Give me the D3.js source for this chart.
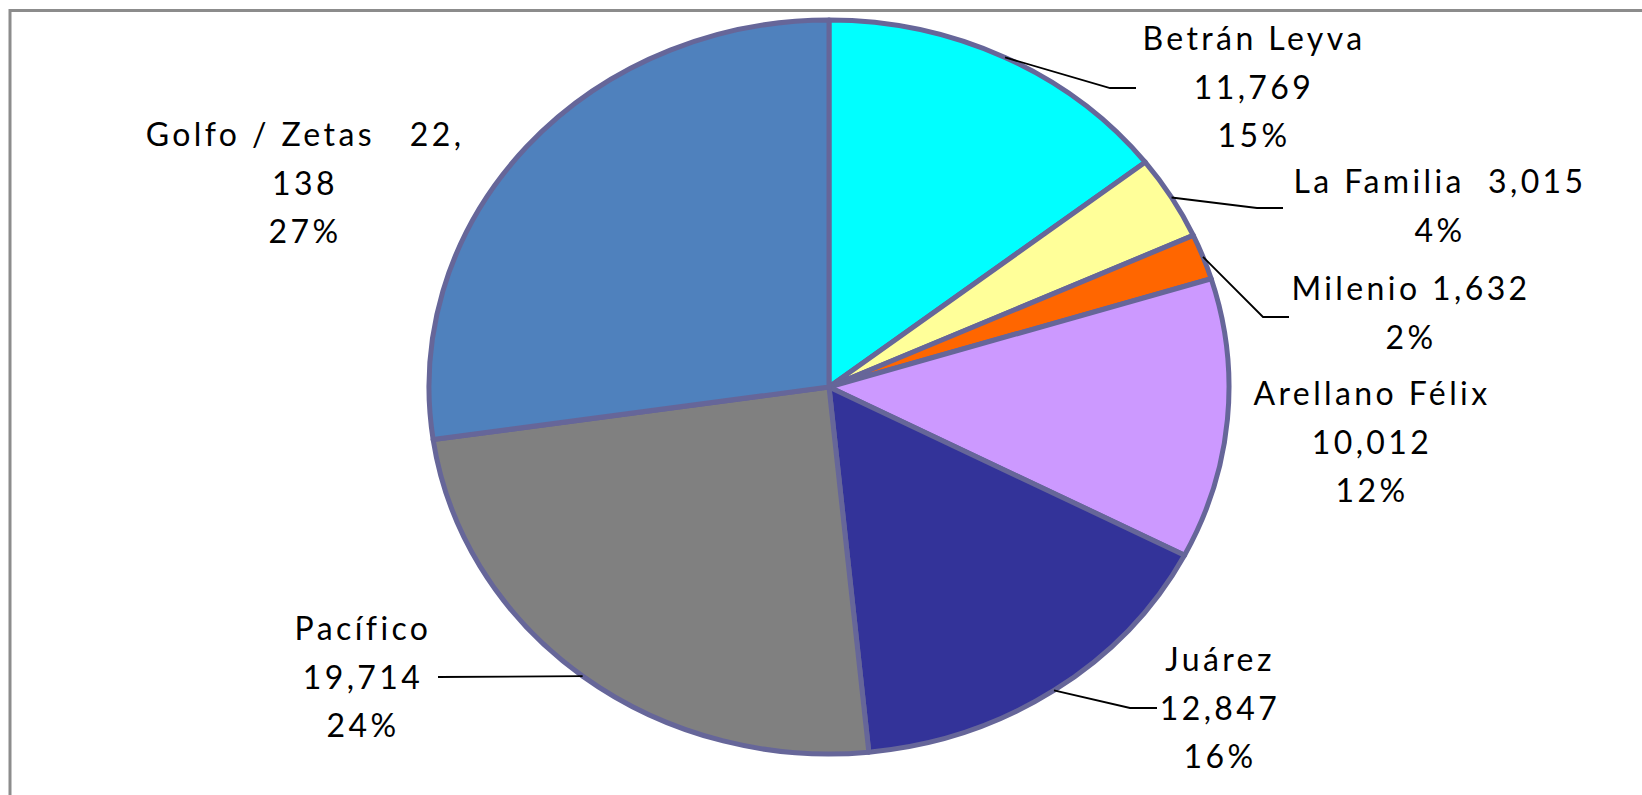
<!DOCTYPE html>
<html>
<head>
<meta charset="utf-8">
<script src="https://cdn.jsdelivr.net/npm/d3@7"></script>
<style>
  html, body { margin: 0; padding: 0; background: #fff; overflow: hidden; }
  svg { display: block; }
  text { font-family: Lato, "Open Sans", sans-serif; font-size: 32px; letter-spacing: 3.4px; fill: #000; white-space: pre; }
</style>
</head>
<body>
<svg id="chart" width="1642" height="795"></svg>
<script>
// ---- data ----
const categories = ["Betrán Leyva", "La Familia", "Milenio", "Arellano Félix", "Juárez", "Pacífico", "Golfo / Zetas"];
const values = [11769, 3015, 1632, 10012, 12847, 19714, 22138];
const colors = ["#00FFFF", "#FFFF99", "#FF6600", "#CC99FF", "#333399", "#808080", "#4F81BD"];
// label texts as shown (first line, value line may be merged as in the original)
const labelLines = [
  ["Betrán Leyva", "{v}", "{p}"],
  ["La Familia  {v}", "{p}"],
  ["Milenio {v}", "{p}"],
  ["Arellano Félix", "{v}", "{p}"],
  ["Juárez", "{v}", "{p}"],
  ["Pacífico", "{v}", "{p}"],
  ["Golfo / Zetas   22,", "138", "{p}"]
];

// ---- layout ----
const W = 1642, H = 795;
const cx = 829, cy = 387, rx = 400, ry = 367;
// label anchor (center x, first baseline) and leader elbow/end
const labelLayout = [
  { x: 1254, y: 50,  elbow: [1110, 88],  end: [1136, 88] },
  { x: 1440, y: 193, elbow: [1257, 208], end: [1283, 208] },
  { x: 1411, y: 300, elbow: [1263, 317], end: [1289, 317] },
  { x: 1372, y: 405, elbow: null, end: null },
  { x: 1220, y: 671, elbow: [1130, 708], end: [1157, 708] },
  { x: 363,  y: 640, elbow: "start", end: [438, 677] },
  { x: 305,  y: 146, elbow: null, end: null }
];
const lineGap = 48.5;

const svg = d3.select("#chart");

// frame
svg.append("rect")
  .attr("x", 10).attr("y", 10.5)
  .attr("width", W + 20).attr("height", H + 20)
  .attr("fill", "none").attr("stroke", "#8c8c8c").attr("stroke-width", 3);

const data = categories.map((c, i) => ({ name: c, value: values[i], color: colors[i], i }));
const total = d3.sum(values);
const pct = d3.format(".0%");
const num = d3.format(",");

const pie = d3.pie().value(d => d.value).sort(null).startAngle(0).endAngle(2 * Math.PI);
const arcs = pie(data);
const arc = d3.arc().innerRadius(0).outerRadius(ry);

const g = svg.append("g").attr("transform", `translate(${cx},${cy}) scale(${rx / ry},1)`);
g.selectAll("path.slice")
  .data(arcs)
  .join("path")
  .attr("class", "slice")
  .attr("d", arc)
  .attr("fill", d => d.data.color)
  .attr("stroke", "#666699")
  .attr("stroke-width", 5)
  .attr("stroke-linejoin", "round")
  .attr("vector-effect", "non-scaling-stroke");

// leader lines
arcs.forEach((a, k) => {
  const L = labelLayout[k];
  if (!L.end) return;
  const mid = (a.startAngle + a.endAngle) / 2;
  const sx = cx + Math.sin(mid) * rx;
  const sy = cy - Math.cos(mid) * ry;
  const pts = [[sx, sy]];
  if (L.elbow && L.elbow !== "start") pts.push(L.elbow);
  pts.push(L.end);
  svg.append("path")
    .attr("d", d3.line()(pts))
    .attr("fill", "none")
    .attr("stroke", "#000")
    .attr("stroke-width", 1.8);
});

// labels
arcs.forEach((a, k) => {
  const L = labelLayout[k];
  const lines = labelLines[k].map(s => s.replace("{v}", num(a.data.value)).replace("{p}", pct(a.data.value / total)));
  const t = svg.append("text").attr("text-anchor", "middle");
  lines.forEach((s, j) => {
    t.append("tspan").attr("x", L.x).attr("y", L.y + j * lineGap).text(s);
  });
});
</script>
</body>
</html>
